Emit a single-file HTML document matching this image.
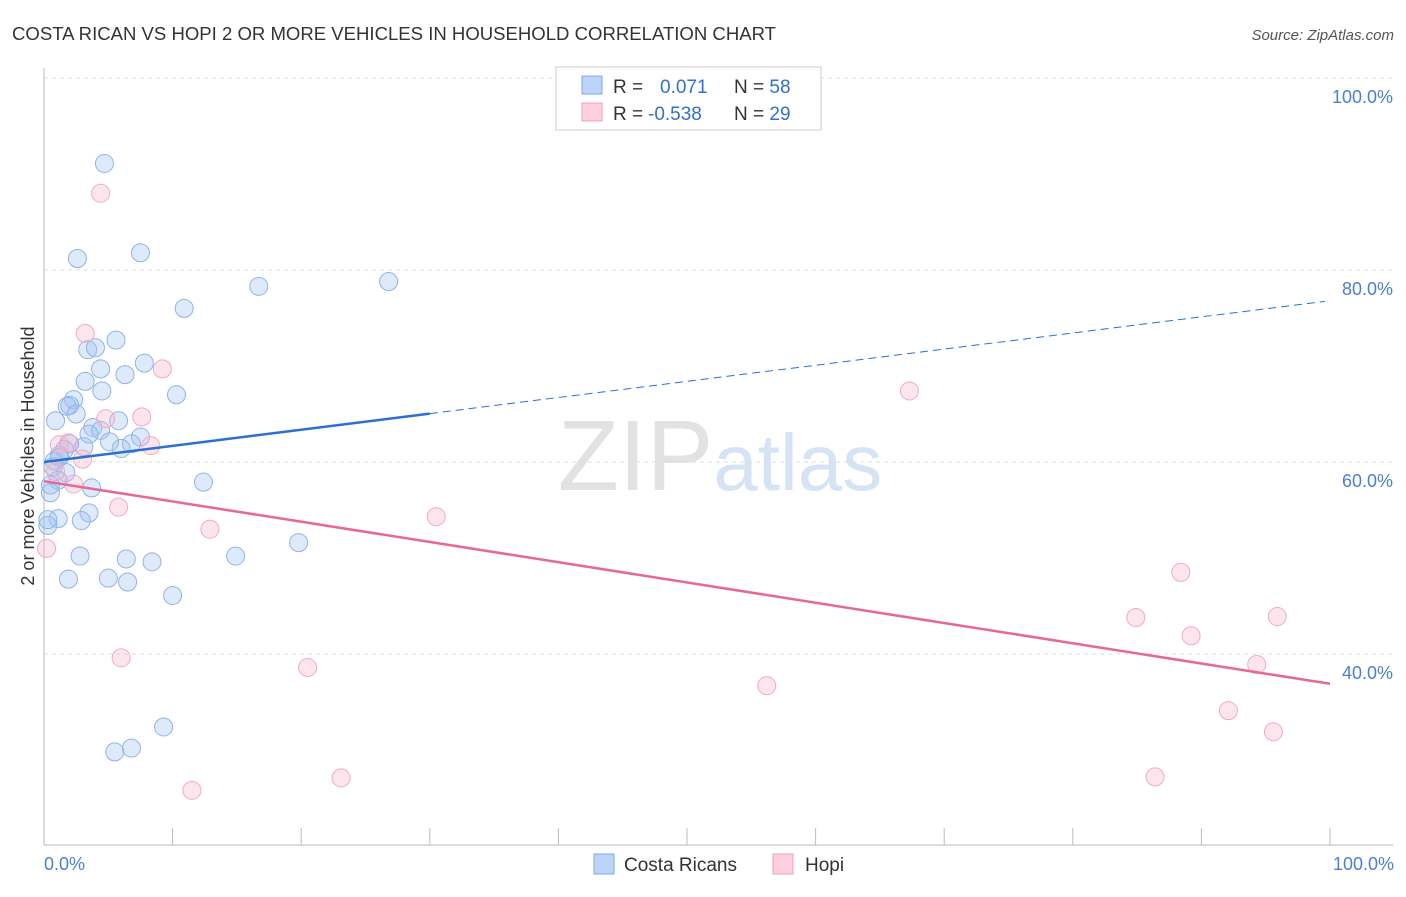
<!DOCTYPE html>
<html><head><meta charset="utf-8"><style>
body{margin:0;background:#fff;font-family:"Liberation Sans",sans-serif;}
svg text{font-family:"Liberation Sans",sans-serif;}
</style></head><body>
<svg id="chart" width="1406" height="892" xmlns="http://www.w3.org/2000/svg">
<text x="12" y="40" font-size="18.6" fill="#333" textLength="764" lengthAdjust="spacingAndGlyphs">COSTA RICAN VS HOPI 2 OR MORE VEHICLES IN HOUSEHOLD CORRELATION CHART</text>
<text x="1394" y="40" font-size="15" fill="#555" text-anchor="end" font-style="italic">Source: ZipAtlas.com</text>
<text x="720" y="490" font-size="100" text-anchor="middle" font-family="Liberation Serif"><tspan fill="#e2e2e2">ZIP</tspan><tspan fill="#d6e3f5" font-family="Liberation Sans" font-size="80">atlas</tspan></text>
<g id="grid"></g>
<g id="axes"></g>
<g id="marks"></g>
<text transform="translate(34,456) rotate(-90)" font-size="18" fill="#333" text-anchor="middle">2 or more Vehicles in Household</text>
<text x="44" y="870" font-size="18" fill="#4a7fd4">0.0%</text>
<text x="1394" y="870" font-size="18" fill="#4a7fd4" text-anchor="end">100.0%</text>
<g>
<rect x="556" y="67" width="265" height="63" fill="#fff" stroke="#ccc"/>
<rect x="582" y="76" width="20" height="18" fill="#bcd4f5" stroke="#7fa8e6"/>
<rect x="582" y="103" width="20" height="18" fill="#fbd0dc" stroke="#f0a0bb"/>
<text x="613" y="93" font-size="19" fill="#333">R = <tspan fill="#3070d0" x="660">0.071</tspan><tspan fill="#333" x="734">N = </tspan><tspan fill="#3070d0">58</tspan></text>
<text x="613" y="120" font-size="19" fill="#333">R = <tspan fill="#3070d0" x="648">-0.538</tspan><tspan fill="#333" x="734">N = </tspan><tspan fill="#3070d0">29</tspan></text>
</g>
<g>
<rect x="594" y="854" width="20" height="20" fill="#bcd4f5" stroke="#7fa8e6"/>
<text x="624" y="871" font-size="19" fill="#333">Costa Ricans</text>
<rect x="773" y="854" width="20" height="20" fill="#fbd0dc" stroke="#f0a0bb"/>
<text x="805" y="871" font-size="19" fill="#333">Hopi</text>
</g>
</svg>
<script>
const yTicks=[40,60,80,100];
const yTickLabels=["40.0%","60.0%","80.0%","100.0%"];
const blueX=[4.7,2.6,7.5,16.7,26.8,10.9,5.6,3.4,4.0,7.8,4.4,6.3,3.2,4.5,10.3,2.3,2.0,1.8,2.5,0.9,5.8,3.8,4.4,3.5,7.5,2.0,5.1,3.1,6.8,6.0,1.6,1.2,0.8,0.7,1.7,1.1,12.4,0.5,3.7,0.5,3.5,1.1,2.9,0.3,6.4,2.8,14.9,8.4,19.8,1.9,5.0,6.5,10.0,9.3,6.8,5.5,0.3,1.2];
const blueY=[91.1,81.2,81.8,78.3,78.8,76.0,72.7,71.7,71.9,70.3,69.7,69.1,68.4,67.4,67.0,66.5,65.9,65.8,65.0,64.3,64.3,63.6,63.3,62.9,62.6,61.9,62.1,61.6,61.9,61.4,61.3,60.7,60.1,59.5,58.9,58.1,57.9,57.6,57.3,56.8,54.7,54.1,53.9,53.4,49.9,50.2,50.2,49.6,51.6,47.8,47.9,47.5,46.1,32.4,30.2,29.8,54.0,60.5];
const pinkX=[4.4,3.2,9.2,67.3,7.6,4.8,1.9,8.3,3.0,0.9,2.3,5.8,30.5,12.9,0.2,88.4,84.9,95.9,89.2,6.0,20.5,94.3,56.2,92.1,95.6,23.1,86.4,11.5,1.2];
const pinkY=[88.0,73.4,69.7,67.4,64.7,64.5,62.0,61.7,60.3,59.0,57.7,55.3,54.3,53.0,51.0,48.5,43.8,43.9,41.9,39.6,38.6,38.9,36.7,34.1,31.9,27.1,27.2,25.8,61.8];
const blueTrend=[60.0,76.8];
const pinkTrend=[58.0,36.9];
const NS="http://www.w3.org/2000/svg";
const sx=v=>44+v*12.86;
const sy=v=>654-(v-40)*9.6;
function mk(tag,attrs,parent){const e=document.createElementNS(NS,tag);for(const k in attrs)e.setAttribute(k,attrs[k]);parent.appendChild(e);return e;}
const grid=document.getElementById('grid'),axes=document.getElementById('axes'),marks=document.getElementById('marks');
yTicks.forEach((t,i)=>{
 const l=mk('line',{x1:44,x2:1393,y1:sy(t),y2:sy(t),stroke:'#ddd','stroke-dasharray':'4,4'},grid);
 
 
 const tx=mk('text',{x:1393,y:sy(t)+25,'font-size':18,fill:'#4a7fd4','text-anchor':'end'},axes);
 tx.textContent=yTickLabels[i];
 
 
});
mk('line',{x1:44,x2:44,y1:68,y2:845,stroke:'#bbb'},axes);
mk('line',{x1:44,x2:1393,y1:845,y2:845,stroke:'#bbb'},axes);
for(let i=0;i<=10;i++){const t=mk('line',{x1:sx(i*10),x2:sx(i*10),y1:828,y2:845,stroke:'#bbb'},axes);
 
 }
function pts(xs,ys,fill,stroke,name){xs.forEach((x,i)=>{const c=mk('circle',{cx:sx(x),cy:sy(ys[i]),r:9,fill:fill,stroke:stroke,'stroke-width':1},marks);
 
 });}
pts(blueX,blueY,'rgba(160,195,240,0.35)','#8fb3e8','costa-rican-point');
pts(pinkX,pinkY,'rgba(248,180,205,0.35)','#f2aac2','hopi-point');
const bx=30;
const bl=mk('line',{x1:sx(0),y1:sy(blueTrend[0]),x2:sx(bx),y2:sy(blueTrend[0]+(blueTrend[1]-blueTrend[0])*bx/100),stroke:'#2a6fd6','stroke-width':2.5},marks);


const bd=mk('line',{x1:sx(bx),y1:sy(blueTrend[0]+(blueTrend[1]-blueTrend[0])*bx/100),x2:sx(99.6),y2:sy(blueTrend[0]+(blueTrend[1]-blueTrend[0])*0.996),stroke:'#2a6fd6','stroke-width':1,'stroke-dasharray':'8,5'},marks);


const pl=mk('line',{x1:sx(0),y1:sy(pinkTrend[0]),x2:sx(100),y2:sy(pinkTrend[1]),stroke:'#e4699a','stroke-width':2.5},marks);


</script>
</body></html>
